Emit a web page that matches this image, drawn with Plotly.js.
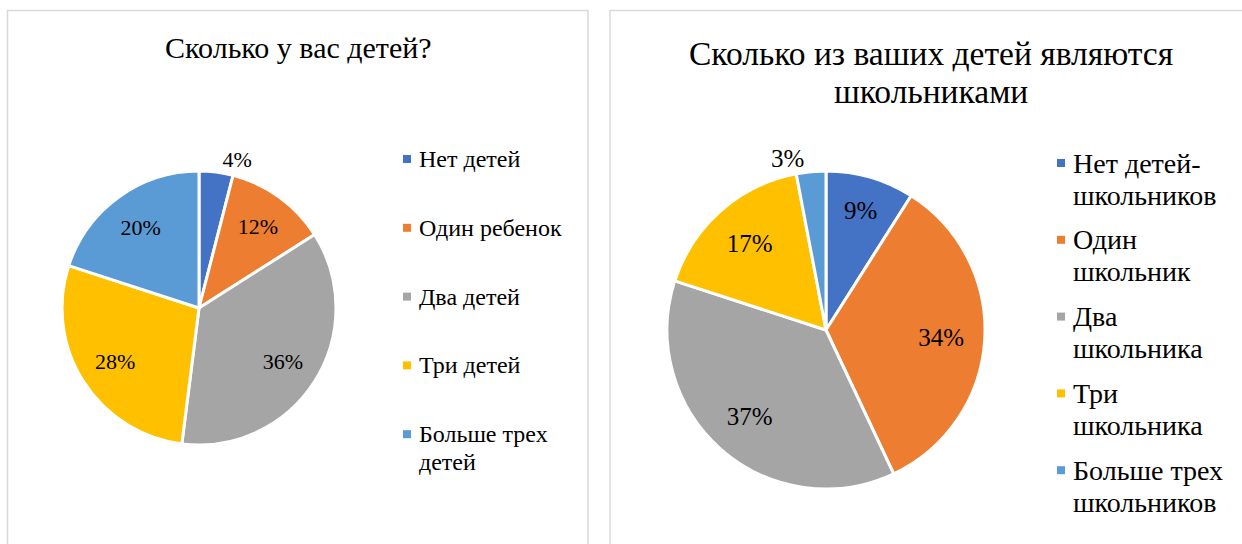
<!DOCTYPE html>
<html>
<head>
<meta charset="utf-8">
<script src="https://cdn.plot.ly/plotly-3.0.1.min.js"></script>
<style>
  html, body { margin: 0; padding: 0; background: #ffffff; }
  #chart { width: 1242px; height: 544px; }
</style>
</head>
<body>
<div id="chart"></div>
<script>
// ---------- data ----------
const colors = ['#4472C4', '#ED7D31', '#A5A5A5', '#FFC000', '#5B9BD5'];

const title1 = ['Сколько у вас детей?'];
const labels1 = ['Нет детей', 'Один ребенок', 'Два детей', 'Три детей', 'Больше трех детей'];
const legend1 = ['Нет детей', 'Один ребенок', 'Два детей', 'Три детей', 'Больше трех<br>детей'];
const values1 = [4, 12, 36, 28, 20];

const title2 = ['Сколько из ваших детей являются', 'школьниками'];
const labels2 = ['Нет детей-школьников', 'Один школьник', 'Два школьника', 'Три школьника', 'Больше трех школьников'];
const legend2 = ['Нет детей-<br>школьников', 'Один<br>школьник', 'Два<br>школьника', 'Три<br>школьника', 'Больше трех<br>школьников'];
const values2 = [9, 34, 37, 17, 3];

// ---------- layout helpers ----------
const W = 1242, H = 544;
const FONT = 'Liberation Serif';

function pieDomain(cx, cy, r) {
  return {
    x: [(cx - r) / W, (cx + r) / W],
    y: [(H - cy - r) / H, (H - cy + r) / H]
  };
}

function textPositions(values) {
  return values.map(v => v < 5 ? 'outside' : 'inside');
}

// visible slices
function pieTrace(labels, values, dom) {
  return {
    type: 'pie', labels: labels, values: values,
    sort: false, direction: 'clockwise', rotation: 0,
    domain: dom,
    marker: { colors: colors, line: { color: '#ffffff', width: 3 } },
    textinfo: 'none',
    showlegend: false, automargin: false,
    hoverinfo: 'label+percent'
  };
}

// transparent ring carrying the data labels (places them mid-ring)
function labelTrace(labels, values, dom, fontSize, hole) {
  return {
    type: 'pie', labels: labels, values: values,
    sort: false, direction: 'clockwise', rotation: 0,
    domain: dom, hole: hole,
    marker: { colors: values.map(() => 'rgba(0,0,0,0)'), line: { width: 0 } },
    texttemplate: '%{value}%',
    textposition: textPositions(values),
    insidetextorientation: 'horizontal',
    textfont: { family: FONT, size: fontSize, color: '#000000' },
    outsidetextfont: { family: FONT, size: fontSize, color: '#000000' },
    insidetextfont: { family: FONT, size: fontSize, color: '#000000' },
    showlegend: false, automargin: false,
    hoverinfo: 'skip'
  };
}

// Custom legend: square markers via scatter, label lines via annotations
function legendParts(legendLabels, x0, y0, step, fontSize, lineH) {
  const xs = legendLabels.map(() => x0);
  const ys = legendLabels.map((_, i) => y0 + i * step);
  const marker = {
    type: 'scatter', mode: 'markers', x: xs, y: ys,
    xaxis: 'x', yaxis: 'y',
    marker: { symbol: 'square', size: 8, color: colors },
    hoverinfo: 'skip', showlegend: false
  };
  const anns = [];
  legendLabels.forEach((t, i) => {
    t.split('<br>').forEach((line, k) => {
      anns.push({
        xref: 'x', yref: 'y', x: x0 + 10, y: ys[i] + k * lineH,
        xanchor: 'left', yanchor: 'middle', align: 'left',
        text: line, showarrow: false,
        font: { family: FONT, size: fontSize, color: '#000000' }
      });
    });
  });
  return { marker, anns };
}

function titleParts(lines, cx, y0, lineH, fontSize) {
  return lines.map((line, k) => ({
    xref: 'x', yref: 'y', x: cx, y: y0 + k * lineH,
    xanchor: 'center', yanchor: 'middle',
    text: line, showarrow: false,
    font: { family: FONT, size: fontSize, color: '#000000' }
  }));
}

const lg1 = legendParts(legend1, 407, 159, 68.8, 24, 27.5);
const lg2 = legendParts(legend2, 1061, 163, 76.8, 28, 32);

const dom1 = pieDomain(199, 308, 137);
const dom2 = pieDomain(826, 330, 159);

const data = [
  pieTrace(labels1, values1, dom1),
  pieTrace(labels2, values2, dom2),
  labelTrace(labels1, values1, dom1, 22, 0.45),
  labelTrace(labels2, values2, dom2, 25, 0.45),
  lg1.marker,
  lg2.marker
];

const layout = {
  width: W, height: H,
  margin: { l: 0, r: 0, t: 0, b: 0 },
  paper_bgcolor: '#ffffff',
  plot_bgcolor: 'rgba(0,0,0,0)',
  showlegend: false,
  font: { family: FONT },
  xaxis: { range: [0, W], visible: false, fixedrange: true },
  yaxis: { range: [H, 0], visible: false, fixedrange: true },
  shapes: [
    { type: 'rect', xref: 'x', yref: 'y', x0: 7.5, x1: 588, y0: 10.5, y1: 570,
      line: { color: '#d9d9d9', width: 1.5 }, layer: 'below' },
    { type: 'rect', xref: 'x', yref: 'y', x0: 610, x1: 1270, y0: 10.5, y1: 570,
      line: { color: '#d9d9d9', width: 1.5 }, layer: 'below' }
  ],
  annotations: [].concat(
    titleParts(title1, 298, 47, 0, 30),
    titleParts(title2, 931, 53, 38, 33.5),
    lg1.anns, lg2.anns)
};

Plotly.newPlot('chart', data, layout, { displayModeBar: false, staticPlot: true });
</script>
</body>
</html>
